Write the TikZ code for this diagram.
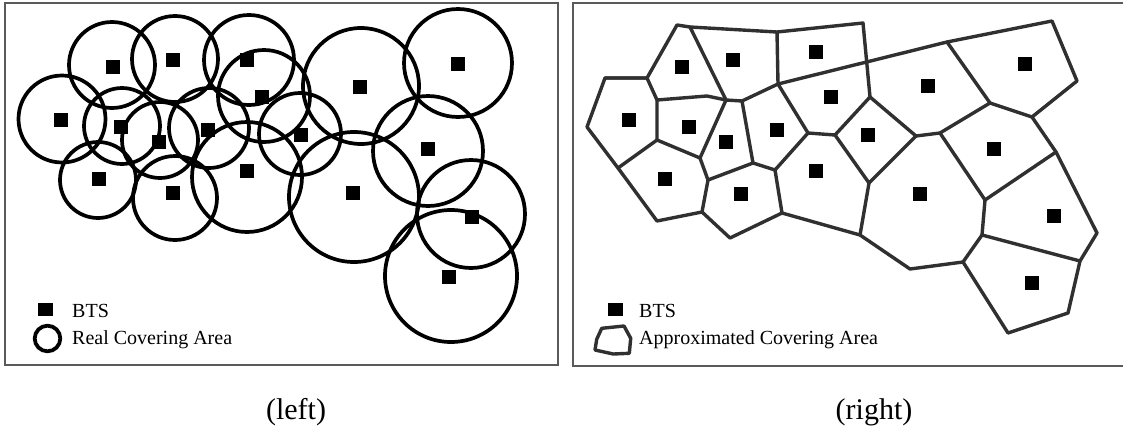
\documentclass[tikz,border=0pt]{standalone}
\usepackage{fontspec}
\setmainfont{Liberation Serif}
\definecolor{framegray}{HTML}{5A5A5A}
\definecolor{edgegray}{HTML}{303030}
\begin{document}
\begin{tikzpicture}[x=1pt,y=-1pt,
  frame/.style={draw=framegray,line width=1.6pt},
  bts/.style={fill=black,draw=none,minimum width=14pt,minimum height=14pt,inner sep=0pt,outer sep=0pt},
  cover/.style={draw=black,line width=3.7pt},
  cell/.style={draw=edgegray,line width=3.4pt,line join=round,line cap=round},
  legend/.style={anchor=base west,inner sep=0pt,font=\fontsize{20}{24}\selectfont},
  caption/.style={anchor=base,inner sep=0pt,font=\fontsize{30}{36}\selectfont}]
\useasboundingbox (0,0) rectangle (1123,434);
\fill[white] (0,0) rectangle (1123,434);

% ---------- left panel: real covering areas ----------
\draw[frame] (5,3) rectangle (558,365);
\foreach \cx/\cy/\r in {112/65/43, 175/59/43, 249/60/45, 62/119/43.5, 122/126/38,
  160/140/38, 209/128/40, 264/96/46, 300/134/41, 247/177/55, 98/180/38,
  175/198/42, 361/86/58, 458/63/54, 428/151/55, 354/197/65, 471/214/54, 451/276/66}
  \draw[cover] (\cx,\cy) circle[radius=\r];
\foreach \n/\px/\py in {L1/113/67, L2/173/60, L3/247/60, L4/61/120, L5/121/127,
  L6/159/142, L7/208/130, L8/262/97, L9/301/135, L10/247/171, L11/99/179,
  L12/173/193, L13/360/87, L14/458/64, L15/428/149, L16/353/193, L17/472/217, L18/449/277}
  \node[bts] (\n) at (\px,\py) {};

\node[bts,minimum width=15pt,minimum height=13pt] (lkey) at (45.5,309.5) {};
\node[legend] (lbts) at (72,317) {BTS};
\draw[cover,line width=3.8pt] (47.5,338.5) circle[radius=12.8];
\node[legend] (lreal) at (72,344.5) {Real Covering Area};

% ---------- right panel: approximated covering areas ----------
\draw[frame] (573,3) rectangle (1130,366);
\foreach \n/\px/\py in {a/677/25, b/690/27, c/777/32, d/863/23, e/1052/21, f/1077/81,
  g/605/78, h/647/78, i/587/127, j/618/168, k/657/100, l/707/96, m/726/100,
  n/742/101, o/778/84, q/947/42, r/870/97, s/657/140, t/700/158, u/708/180,
  v/753/163, w/775/170, x/808/133, y/835/135, z1/916/136, z2/940/133,
  z3/990/103, z4/1032/117, z5/1056/152, z6/869/183, z7/985/200, z8/657/221,
  z9/702/212, z10/730/238, z11/782/213, z12/860/235, z13/910/269, z14/963/262,
  z15/982/235, z16/1097/233, z17/1080/261, z18/1068/313, z19/1008/333}
  \coordinate (\n) at (\px,\py);
\draw[cell] (g)--(h)--(a)--(b)--(c)--(d)--(r)--(z1)--(z2)--(z3)--(z4)--(f)--(e)--(q)--(o)--(c);
\draw[cell] (q)--(z3);
\draw[cell] (h)--(g)--(i)--(j)--(z8)--(z9)--(z10)--(z11)--(z12)--(z13)--(z14)--(z19)--(z18)--(z17)--(z16)--(z5)--(z4);
\draw[cell] (h)--(k)--(l)--(m)--(n)--(o)--(x)--(y)--(r);
\draw[cell] (b)--(m)--(t)--(s)--(k);
\draw[cell] (s)--(j);
\draw[cell] (t)--(u)--(v)--(n);
\draw[cell] (u)--(z9);
\draw[cell] (v)--(w)--(x);
\draw[cell] (w)--(z11);
\draw[cell] (y)--(z6)--(z1);
\draw[cell] (z6)--(z12);
\draw[cell] (z2)--(z7)--(z5);
\draw[cell] (z7)--(z15)--(z14);
\draw[cell] (z15)--(z17);
\foreach \n/\px/\py in {R1/682/67, R2/733/60, R3/816/52, R4/831/97, R5/629/120,
  R6/689/127, R7/726/142, R8/777/130, R9/816/171, R10/665/179, R11/741/194,
  R12/928/86, R13/1025/64, R14/868/135, R15/994/149, R16/920/194, R17/1054/216, R18/1032/283}
  \node[bts] (\n) at (\px,\py) {};

\node[bts,minimum width=15pt,minimum height=13pt] (rkey) at (615.5,309.5) {};
\node[legend] (rbts) at (639,317) {BTS};
\draw[cell] (601.7,328.3)--(624,326)--(630.7,338.3)--(629.3,353.3)
  --(613.3,354)--(595,350)--(596.7,339.3)--cycle;
\node[legend] (rapprox) at (639,344.5) {Approximated Covering Area};

% ---------- captions ----------
\node[caption] (capl) at (296,419) {(left)};
\node[caption] (capr) at (874,419) {(right)};
\end{tikzpicture}
\end{document}
